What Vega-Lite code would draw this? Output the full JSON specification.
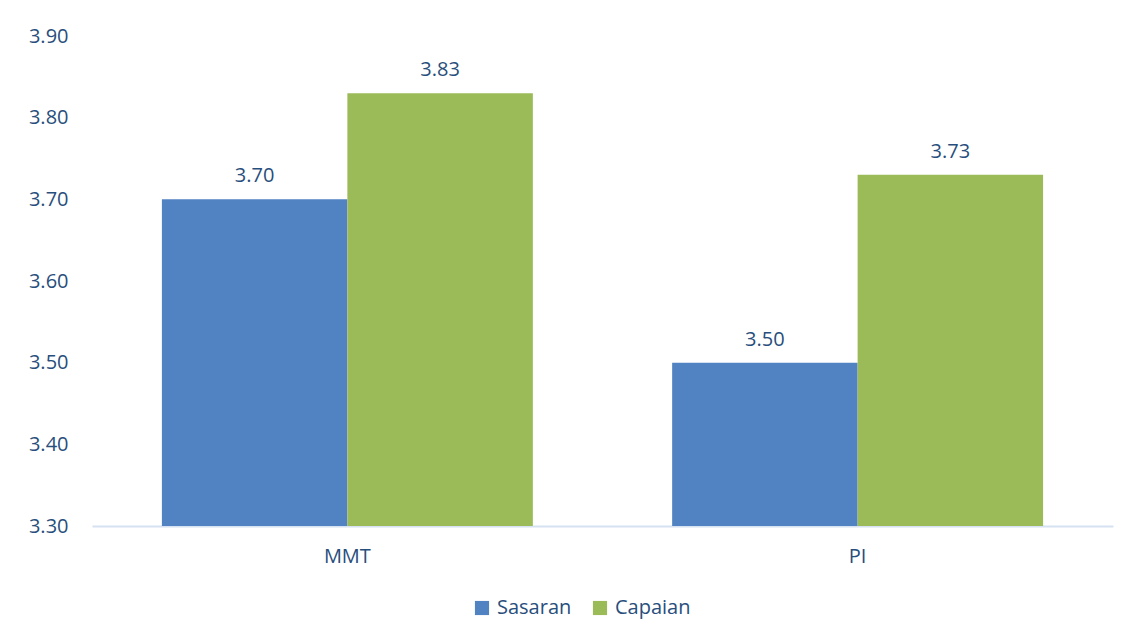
{
  "$schema": "https://vega.github.io/schema/vega-lite/v6.json",
  "autosize": "none",
  "width": 1021,
  "height": 490,
  "padding": {"left": 92, "top": 36, "right": 22, "bottom": 117},
  "background": "white",
  "config": {
    "view": {"stroke": null},
    "font": "Open Sans",
    "axis": {"labelFont": "Open Sans", "labelColor": "#284E7C", "labelFontSize": 20, "grid": false, "ticks": false, "title": null},
    "legend": {"labelFont": "Open Sans", "labelColor": "#284E7C", "labelFontSize": 20}
  },
  "data": {
    "values": [
      {"category": "MMT", "series": "Sasaran", "value": 3.70},
      {"category": "MMT", "series": "Capaian", "value": 3.83},
      {"category": "PI", "series": "Sasaran", "value": 3.50},
      {"category": "PI", "series": "Capaian", "value": 3.73}
    ]
  },
  "encoding": {
    "x": {
      "field": "category", "type": "nominal", "sort": ["MMT", "PI"],
      "scale": {"paddingInner": 0.273, "paddingOuter": 0.137},
      "axis": {"labelAngle": 0, "labelPadding": 20, "domain": true, "domainColor": "#D6E2F1", "domainWidth": 2}
    },
    "xOffset": {"field": "series", "type": "nominal", "sort": ["Sasaran", "Capaian"], "scale": {"paddingInner": 0, "paddingOuter": 0}},
    "y": {
      "field": "value", "type": "quantitative",
      "scale": {"domain": [3.3, 3.9], "zero": false, "nice": false},
      "axis": {"values": [3.3, 3.4, 3.5, 3.6, 3.7, 3.8, 3.9], "format": ".2f", "domain": false, "labelPadding": 24}
    }
  },
  "layer": [
    {
      "mark": {"type": "bar", "clip": true},
      "encoding": {
        "color": {
          "field": "series", "type": "nominal", "sort": ["Sasaran", "Capaian"],
          "scale": {"domain": ["Sasaran", "Capaian"], "range": ["#5182C1", "#9BBB58"]},
          "legend": {"title": null, "orient": "none", "legendX": 380, "legendY": 562, "direction": "horizontal", "symbolType": "square", "symbolSize": 200, "symbolStrokeWidth": 0, "columnPadding": 18, "labelOffset": 5}
        }
      }
    },
    {
      "mark": {"type": "text", "baseline": "bottom", "dy": -13, "fontSize": 20, "color": "#284E7C", "font": "Open Sans"},
      "encoding": {"text": {"field": "value", "type": "quantitative", "format": ".2f"}}
    }
  ]
}
